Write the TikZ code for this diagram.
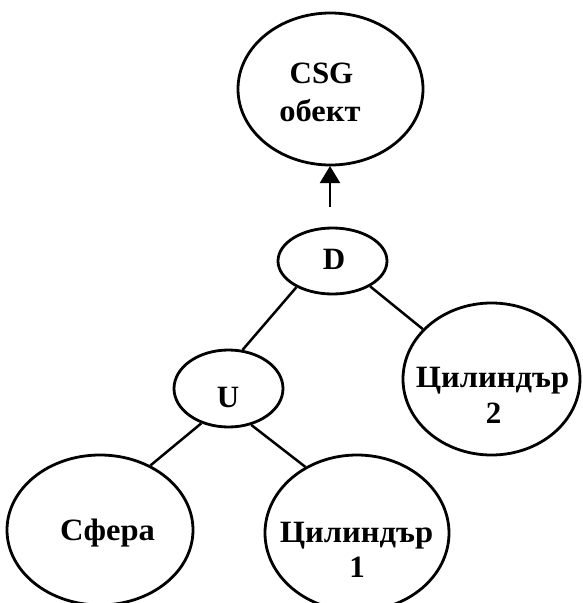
\documentclass[tikz,border=0pt]{standalone}
\usepackage{graphicx}
\usepackage{fontspec}
\setmainfont{Liberation Serif}
\usetikzlibrary{shapes.geometric,arrows.meta}
\newcommand{\wide}[1]{\scalebox{1.05}[1]{#1}}
\begin{document}
\begin{tikzpicture}[x=1pt,y=-1pt,
  ell/.style={draw=black,line width=2.8pt,ellipse,inner sep=0pt},
  txt/.style={font=\fontsize{31}{35}\selectfont\bfseries,inner sep=0pt,anchor=base},
  conn/.style={line width=2.5pt}]
\useasboundingbox (0,0) rectangle (582,603);
% ellipses
\node[ell,minimum width=185pt,minimum height=152pt] (csg) at (330.5,89) {};
\node[ell,minimum width=109pt,minimum height=66pt] (d) at (332.5,261) {};
\node[ell,minimum width=109pt,minimum height=77pt] (u) at (228.5,388.5) {};
\node[ell,minimum width=177pt,minimum height=152pt] (cyl2) at (491.5,379) {};
\node[ell,minimum width=186pt,minimum height=150pt] (sf) at (100,530) {};
\node[ell,minimum width=184pt,minimum height=156pt] (cyl1) at (357,533) {};
% texts
\node[txt] (tcsga) at (321.5,83) {CSG};
\node[txt] (tcsgb) at (320,121) {\wide{обект}};
\node[txt] (td) at (334,269) {D};
\node[txt] (tu) at (228,407) {U};
\node[txt] (tcyl2a) at (492.5,387) {\wide{Цилиндър}};
\node[txt] (tcyl2b) at (493.5,423) {2};
\node[txt] (tsf) at (107.5,540) {\wide{Сфера}};
\node[txt] (tcyl1a) at (356.5,542) {\wide{Цилиндър}};
\node[txt] (tcyl1b) at (357,577) {1};
% connectors
\coordinate (astart) at (330,207);
\coordinate (aend) at (330,166);
\draw[line width=2pt,-{Triangle[length=17pt,width=20pt]}] (astart) -- (aend);
\draw[conn] (d.216) -- (u.70);
\draw[conn] (d.326) -- (cyl2.144);
\draw[conn] (u.232) -- (sf.52);
\draw[conn] (u.302) -- (cyl1.128);
\end{tikzpicture}
\end{document}
